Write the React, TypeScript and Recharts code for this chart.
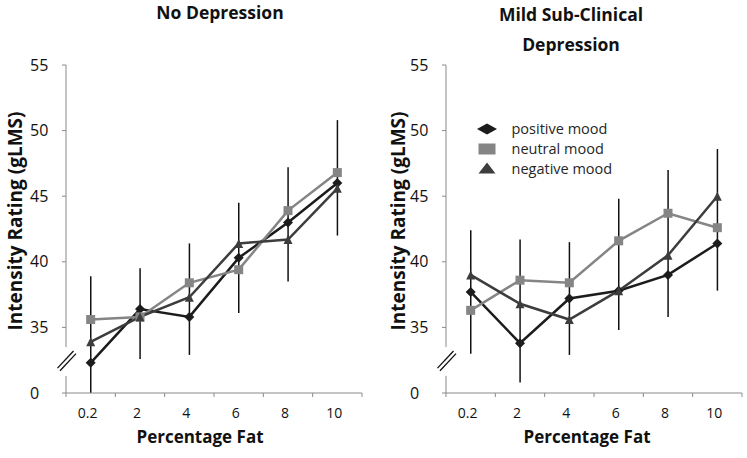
import React from "react";
import { Bar, ComposedChart, Label, Legend, Line, XAxis, YAxis } from "recharts";

const categories = ["0.2", "2", "4", "6", "8", "10"];
const yTicks = [30, 35, 40, 45, 50, 55];

// No Depression
const noDepPositive = [32.3, 36.4, 35.8, 40.3, 43.0, 46.0];
const noDepNeutral = [35.6, 35.8, 38.4, 39.4, 43.9, 46.8];
const noDepNegative = [33.9, 35.8, 37.3, 41.4, 41.7, 45.6];
const noDepErrLow = [30.0, 32.6, 32.9, 36.1, 38.5, 42.0];
const noDepErrHigh = [38.9, 39.5, 41.4, 44.5, 47.2, 50.8];

// Mild Sub-Clinical Depression
const mildPositive = [37.7, 33.8, 37.2, 37.8, 39.0, 41.4];
const mildNeutral = [36.3, 38.6, 38.4, 41.6, 43.7, 42.6];
const mildNegative = [39.0, 36.8, 35.6, 37.8, 40.5, 45.0];
const mildErrLow = [33.0, 30.8, 32.9, 34.8, 35.8, 37.8];
const mildErrHigh = [42.4, 41.7, 41.5, 44.8, 47.0, 48.6];

const FONT = '"Open Sans", sans-serif';
const AXIS = "#8a8a8a";

const series = [
  { key: "positive", name: "positive mood", color: "#1c1c1c", shape: "diamond" },
  { key: "neutral", name: "neutral mood", color: "#858585", shape: "square" },
  { key: "negative", name: "negative mood", color: "#3d3d3d", shape: "triangle" },
];

const buildRows = (pos: number[], neu: number[], neg: number[], lo: number[], hi: number[]) =>
  categories.map((fat, i) => ({ fat, positive: pos[i], neutral: neu[i], negative: neg[i], err: [lo[i], hi[i]] }));

function Marker({ cx, cy, shape, color, w, h }: any) {
  if (shape === "diamond")
    return <polygon points={`${cx - w / 2},${cy} ${cx},${cy - h / 2} ${cx + w / 2},${cy} ${cx},${cy + h / 2}`} fill={color} />;
  if (shape === "square") return <rect x={cx - w / 2} y={cy - h / 2} width={w} height={h} fill={color} />;
  return <polygon points={`${cx - w / 2},${cy + h / 2} ${cx},${cy - h / 2} ${cx + w / 2},${cy + h / 2}`} fill={color} />;
}

const TOP = 65;
const BOTTOM = 65;
const CH = 458;
const PLOT_W = 296;
const yPix = (v: number) => TOP + ((55 - v) / 25) * (CH - TOP - BOTTOM);

function YTick({ x, y, payload }: any) {
  return (
    <text x={x - 30} y={y} dy="0.35em" textAnchor="start" fontSize={16} fill="#111" fontFamily={FONT}>
      {payload.value === 30 ? "0" : payload.value}
    </text>
  );
}

function XTick({ x, y, payload }: any) {
  return (
    <text x={x - 3} y={y} dy="0.35em" textAnchor="middle" fontSize={14} fill="#111" fontFamily={FONT}>
      {payload.value}
    </text>
  );
}

function MoodLegend() {
  return (
    <div style={{ fontFamily: FONT, fontSize: 14.5, color: "#262626" }}>
      {series.map((s) => (
        <div key={s.key} style={{ display: "flex", alignItems: "center", height: 19.7, whiteSpace: "nowrap" }}>
          <svg width={24} height={14}>
            <Marker cx={12} cy={7} shape={s.shape} color={s.color} w={s.shape === "diamond" ? 20 : 17} h={11} />
          </svg>
          <span style={{ marginLeft: 12.5 }}>{s.name}</span>
        </div>
      ))}
    </div>
  );
}

function Panel({ left, width, yAxisWidth, rows, titles, labelX, xLabelDx, legend }: any) {
  const axisX = yAxisWidth;
  const baseY = CH - BOTTOM;
  return (
    <div style={{ position: "absolute", left, top: 0, width, height: CH }}>
      <ComposedChart width={width} height={CH} data={rows} margin={{ top: TOP, right: width - yAxisWidth - PLOT_W, bottom: 0, left: 0 }}>
        <XAxis dataKey="fat" height={BOTTOM} axisLine={{ stroke: AXIS }} tickLine={false} tickSize={0} tickMargin={20} tick={<XTick />} interval={0}>
          <Label
            content={({ viewBox }: any) => (
              <text x={viewBox.x + viewBox.width / 2 + xLabelDx} y={viewBox.y + 50} textAnchor="middle" fontSize={17} fontWeight="bold" fill="#111" fontFamily={FONT}>
                Percentage Fat
              </text>
            )}
          />
        </XAxis>
        <YAxis width={yAxisWidth} domain={[30, 55]} ticks={yTicks} interval={0} axisLine={{ stroke: AXIS }} tickLine={{ stroke: AXIS }} tickSize={4} tickMargin={2} tick={<YTick />}>
          <Label
            content={({ viewBox }: any) => {
              const cx = labelX;
              const cy = viewBox.y + viewBox.height / 2 - 8;
              return (
                <text x={cx} y={cy} transform={`rotate(-90 ${cx} ${cy})`} textAnchor="middle" dominantBaseline="central" fontSize={19} fontWeight="bold" fill="#111" fontFamily={FONT}>
                  Intensity Rating (gLMS)
                </text>
              );
            }}
          />
        </YAxis>
        <Bar dataKey="err" barSize={1.5} fill="#111" isAnimationActive={false} legendType="none" />
        {series.map((s) => (
          <Line
            key={s.key}
            dataKey={s.key}
            name={s.name}
            stroke={s.color}
            strokeWidth={2.5}
            isAnimationActive={false}
            dot={(p: any) => <Marker key={p.index} cx={p.cx} cy={p.cy} shape={s.shape} color={s.color} w={s.shape === "diamond" ? 10 : 9} h={s.shape === "diamond" ? 10 : 9} />}
          />
        ))}
        {legend && (
          <Legend layout="vertical" align="center" verticalAlign="middle" wrapperStyle={{ left: 105, top: 119, width: 160 }} content={() => <MoodLegend />} />
        )}
      </ComposedChart>
      <svg width={width} height={CH} style={{ position: "absolute", left: 0, top: 0, pointerEvents: "none" }}>
        {titles.map((t: any, i: number) => (
          <text key={i} x={t.x} y={t.y} textAnchor="middle" fontSize={17.5} fontWeight="bold" fill="#111" fontFamily={FONT}>
            {t.text}
          </text>
        ))}
        {/* category boundary ticks on the x axis */}
        {[0, 1, 2, 3, 4, 5, 6].map((i) => {
          const tx = axisX + (i * PLOT_W) / categories.length;
          return <line key={i} x1={tx} y1={baseY} x2={tx} y2={baseY + 4} stroke={AXIS} />;
        })}
        {/* axis break */}
        <rect x={axisX - 3} y={yPix(33.5)} width={6} height={yPix(31.3) - yPix(33.5)} fill="#fff" />
        <line x1={axisX - 8.5} y1={yPix(31.9)} x2={axisX + 7.5} y2={yPix(33.2)} stroke="#111" strokeWidth={1.3} />
        <line x1={axisX - 6} y1={yPix(31.7)} x2={axisX + 10} y2={yPix(33.0)} stroke="#111" strokeWidth={1.3} />
      </svg>
    </div>
  );
}

export default function App() {
  const noDepRows = buildRows(noDepPositive, noDepNeutral, noDepNegative, noDepErrLow, noDepErrHigh);
  const mildRows = buildRows(mildPositive, mildNeutral, mildNegative, mildErrLow, mildErrHigh);
  return (
    <div style={{ position: "absolute", left: 0, top: 0, width: 747, height: 458, background: "#fff", overflow: "hidden" }}>
      <Panel left={0} width={370} yAxisWidth={66} rows={noDepRows} labelX={15} xLabelDx={-14} titles={[{ text: "No Depression", x: 220, y: 19 }]} legend={false} />
      <Panel
        left={370}
        width={377}
        yAxisWidth={76}
        rows={mildRows}
        labelX={28}
        xLabelDx={-7}
        titles={[
          { text: "Mild Sub-Clinical", x: 201, y: 21 },
          { text: "Depression", x: 201, y: 51 },
        ]}
        legend
      />
    </div>
  );
}
